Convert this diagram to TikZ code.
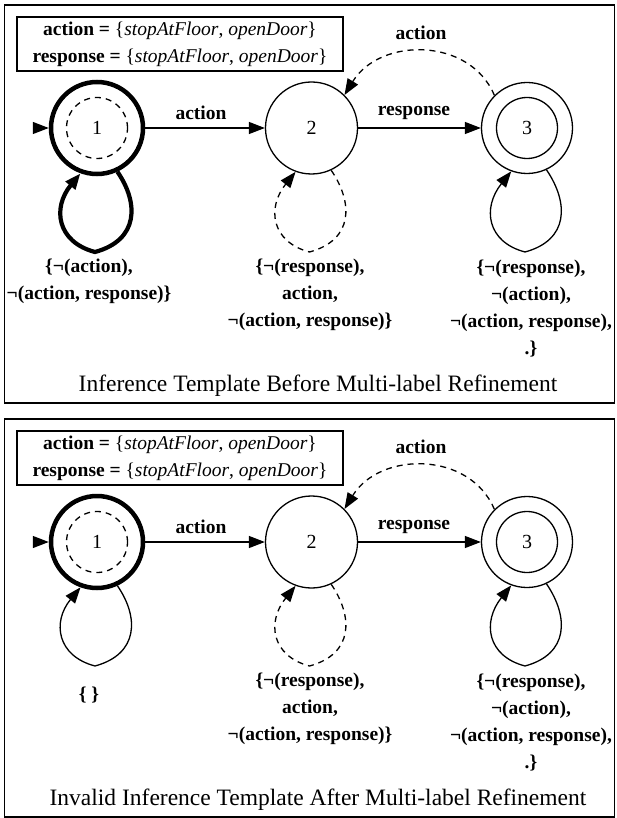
\documentclass[tikz,border=0pt]{standalone}
\usepackage{fontspec}
\setmainfont{Liberation Serif}
\usetikzlibrary{arrows.meta}
\tikzset{
  frm/.style={draw, line width=1.3pt, inner sep=0pt, minimum width=610pt, minimum height=398pt},
  st/.style={circle, draw, line width=1.3pt, minimum size=92pt, inner sep=0pt, font=\fontsize{20}{24}\selectfont},
  ring/.style={circle, draw, line width=1.3pt, minimum size=61pt, inner sep=0pt},
  edge/.style={line width=1.3pt, -{Triangle[length=16pt,width=12pt]}},
  dsh/.style={dash pattern=on 6pt off 5pt},
  lab/.style={font=\fontsize{19.5}{27}\selectfont\bfseries, align=center, inner sep=0pt},
  ttl/.style={font=\fontsize{23.5}{28}\selectfont, inner sep=0pt},
  key/.style={draw, line width=1.3pt, minimum width=326pt, minimum height=54pt, inner sep=0pt, align=center, font=\fontsize{19.5}{27}\selectfont},
}
\newcommand{\statpanel}[5]{%
\begin{scope}[shift={(0,#2)}]
\node[frm] (#1f) at (309.5,204) {};
\node[key] (#1k) at (180,44) {\textbf{action =} \{\textit{stopAtFloor}, \textit{openDoor}\}\\\textbf{response =} \{\textit{stopAtFloor}, \textit{openDoor}\}};
\node[st, line width=4.5pt] (#1n1) at (97,128) {1};
\node[ring, dsh] (#1i1) at (97,128) {};
\node[st] (#1n2) at (311.5,128) {2};
\node[st, minimum size=91pt] (#1n3) at (527,128) {3};
\node[ring] (#1i3) at (527,128) {};
\coordinate (#1s) at (33,128);
\draw[edge] (#1s) -- (#1n1);
\draw[edge] (#1n1) -- (#1n2);
\node[lab] (#1la) at (201,113) {action};
\draw[edge] (#1n2) -- (#1n3);
\node[lab] (#1lb) at (414,113) {response};
\draw[edge, dsh] (#1n3.135) .. controls (470,37) and (380,37) .. (#1n2.45);
\node[lab] (#1lc) at (421,33) {action};
\begin{scope}[shift={(97,128)}]
\draw[edge, #3] (#1n1.-65) .. controls (42,75) and (42,112) .. (-2,124) .. controls (-40,114) and (-45,80) .. (#1n1.-110);
\end{scope}
\begin{scope}[shift={(311.5,128)}]
\draw[edge, dsh] (#1n2.-65) .. controls (42,75) and (42,112) .. (-2,124) .. controls (-40,114) and (-45,80) .. (#1n2.-110);
\end{scope}
\begin{scope}[shift={(527,128)}]
\draw[edge] (#1n3.-65) .. controls (42,75) and (42,112) .. (-2,124) .. controls (-40,114) and (-45,80) .. (#1n3.-110);
\end{scope}
\node[lab] (#1m1) at (89,281) {#4};
\node[lab] (#1m2) at (310,295) {\{¬(response),\\action,\\¬(action, response)\}};
\node[lab] (#1m3) at (531,309) {\{¬(response),\\¬(action),\\¬(action, response),\\.\}};
\node[ttl] (#1t) at (318,386) {#5};
\end{scope}}
\begin{document}
\begin{tikzpicture}[x=1pt,y=-1pt]
\useasboundingbox (0,0) rectangle (616,818);
\statpanel{a}{0}{line width=4.2pt}{\{¬(action),\\¬(action, response)\}}{Inference Template Before Multi-label Refinement}
\statpanel{b}{414}{}{\{ \}}{Invalid Inference Template After Multi-label Refinement}
\end{tikzpicture}
\end{document}
